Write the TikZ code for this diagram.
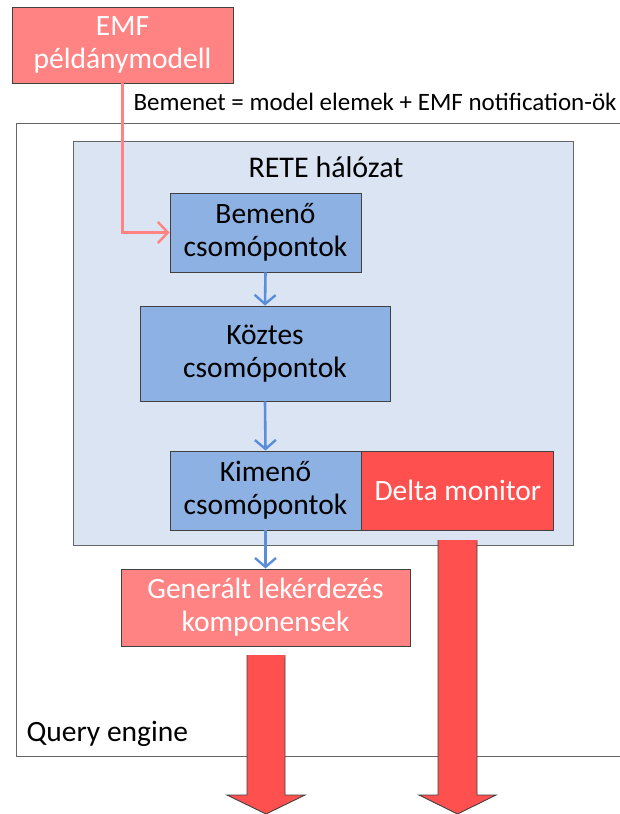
\documentclass[tikz,border=0pt]{standalone}
\usepackage{fontspec}
\setmainfont{Carlito}
\usetikzlibrary{arrows.meta}
\definecolor{salmon}{HTML}{FF8383}
\definecolor{hotred}{HTML}{FF5050}
\definecolor{nodeblue}{HTML}{8EB1E3}
\definecolor{paneblue}{HTML}{DAE4F3}
\definecolor{flowblue}{HTML}{5B8ED8}
\definecolor{edge}{HTML}{404040}
\tikzset{
  box/.style={draw=edge, line width=0.9pt, inner sep=0pt, align=center,
    font=\fontsize{29.5}{33}\selectfont},
  bluebox/.style={box, fill=nodeblue, text=black},
  redbox/.style={box, fill=hotred, text=white},
  pinkbox/.style={box, fill=salmon, text=white},
  flow/.style={draw=flowblue, line width=2.6pt, -{Straight Barb[length=9pt,width=21pt,line width=2.4pt]}},
  feed/.style={draw=salmon, line width=2.6pt, -{Straight Barb[length=10pt,width=21pt,line width=2.4pt]}},
  bigarrow/.style={fill=hotred, draw=edge, line width=0.9pt, line join=miter},
}
\begin{document}
\begin{tikzpicture}[x=1pt,y=-1pt]
\useasboundingbox (0,0) rectangle (620,814);

% query engine frame
\draw[draw=edge!80, line width=0.9pt] (16,123) rectangle (660,756);
\node[anchor=base west, font=\fontsize{29.5}{33}\selectfont] (qe) at (23,741) {Query engine};

% RETE network pane
\draw[draw=edge!80, fill=paneblue, line width=0.9pt] (73,141) rectangle (573,545);
\node[anchor=base, font=\fontsize{30}{33}\selectfont] (rete) at (326,177) {RETE hálózat};

% source model
\node[pinkbox, minimum width=221pt, minimum height=76pt] (emf) at (122.5,45)
  {EMF\\példánymodell};
\node[anchor=base west, font=\fontsize{25}{30}\selectfont] (input) at (130,110)
  {Bemenet = model elemek + EMF notification-ök};

% node layers
\node[bluebox, minimum width=191pt, minimum height=79pt] (bemeno) at (265.5,232.5)
  {Bemenő\\csomópontok};
\node[bluebox, minimum width=250pt, minimum height=95pt] (koztes) at (265,353.5)
  {Köztes\\csomópontok};
\node[bluebox, minimum width=191pt, minimum height=79pt] (kimeno) at (265.5,490.5)
  {Kimenő\\csomópontok};
\node[redbox, minimum width=192pt, minimum height=79pt, anchor=west] (delta) at (kimeno.east)
  {Delta monitor};
\node[pinkbox, minimum width=289pt, minimum height=77pt] (gen) at (265.5,607.5)
  {Generált lekérdezés\\komponensek};

% connectors
\draw[feed] (emf.south) |- (bemeno.west);
\draw[flow] (bemeno.south) -- (koztes.north);
\draw[flow] (koztes.south) -- (kimeno.north);
\draw[flow] (kimeno.south) -- (gen.north);

% outgoing block arrows
\draw[bigarrow] (247,655) -- (247,795) -- (227,795) -- (266,814) -- (305,795) -- (285,795) -- (285,655);
\fill[hotred] (247.5,655) rectangle (284.5,657);
\draw[bigarrow] (438,540) -- (438,795) -- (419,795) -- (457.5,814) -- (496,795) -- (477,795) -- (477,540);
\fill[hotred] (438.5,540) rectangle (476.5,542);
\end{tikzpicture}
\end{document}
